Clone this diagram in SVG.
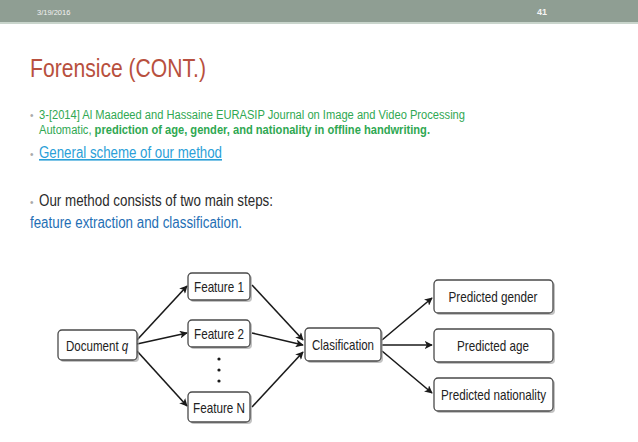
<svg xmlns="http://www.w3.org/2000/svg" width="638" height="442" viewBox="0 0 638 442">
<style>
.t{font-family:"Liberation Sans",Arial,sans-serif}
.box{fill:#fff;stroke:#4a4a4a;stroke-width:1.3}
.shadow{fill:#9a9a9a;opacity:0.6}
.lbl{font-family:"Liberation Sans",Arial,sans-serif;font-size:15px;fill:#222}
.conn line{stroke:#1a1a1a;stroke-width:1.6;marker-end:url(#ah)}
</style>
<defs>
<marker id="ah" viewBox="0 0 10 10" refX="9" refY="5" markerWidth="8" markerHeight="8" markerUnits="userSpaceOnUse" orient="auto">
<path d="M0,0 L10,5 L0,10 L2.5,5 z" fill="#1a1a1a"/>
</marker>
</defs>
<rect x="0" y="0" width="638" height="442" fill="#fff"/>
<rect x="0" y="0" width="638" height="22" fill="#8f9e93"/>
<rect x="0" y="22" width="638" height="2" fill="#c9d5cc"/>
<text class="t" x="37" y="15" font-size="7.5" fill="#f2f2f2">3/19/2016</text>
<text class="t" x="537" y="15" font-size="9" font-weight="bold" fill="#f5f5f5">41</text>
<text class="t" x="30" y="77" font-size="25" fill="#b8503e" textLength="176" lengthAdjust="spacingAndGlyphs">Forensice (CONT.)</text>
<g class="t">
<text x="30" y="119" font-size="10" fill="#aaa">•</text>
<text x="39" y="119" font-size="12" fill="#2fa852" textLength="426" lengthAdjust="spacingAndGlyphs">3-[2014] Al Maadeed and Hassaine EURASIP Journal on Image and Video Processing</text>
<text x="39" y="134" font-size="12" fill="#2fa852" textLength="391" lengthAdjust="spacingAndGlyphs">Automatic, <tspan font-weight="bold">prediction of age, gender, and nationality in offline handwriting.</tspan></text>
<text x="30" y="158" font-size="10" fill="#aaa">•</text>
<text x="39" y="158" font-size="16" fill="#2aa0d8" text-decoration="underline" textLength="183" lengthAdjust="spacingAndGlyphs">General scheme of our method</text>
<text x="30" y="206" font-size="10" fill="#aaa">•</text>
<text x="39" y="206" font-size="16" fill="#2b2b2b" textLength="234" lengthAdjust="spacingAndGlyphs">Our method consists of two main steps:</text>
<text x="30" y="228" font-size="16" fill="#1f6fb5" textLength="212" lengthAdjust="spacingAndGlyphs">feature extraction and classification.</text>
</g>
<g class="conn">
<line x1="137" y1="340" x2="187" y2="286"/>
<line x1="137" y1="344" x2="187" y2="333"/>
<line x1="137" y1="351" x2="187" y2="406"/>
<line x1="252" y1="285" x2="303" y2="340"/>
<line x1="252" y1="333" x2="303" y2="345"/>
<line x1="252" y1="407" x2="303" y2="352"/>
<line x1="382" y1="340" x2="432" y2="298"/>
<line x1="382" y1="345" x2="432" y2="345"/>
<line x1="382" y1="351" x2="432" y2="393"/>
</g>
<g id="doc">
<rect class="shadow" x="60" y="332" width="79" height="30" rx="4"/>
<rect class="box" x="58" y="330" width="79" height="30" rx="4"/>
<text class="lbl" transform="translate(66,350.5) scale(0.77,1)">Document <tspan font-style="italic">q</tspan></text>
</g>
<g id="f1">
<rect class="shadow" x="190" y="275" width="62" height="27" rx="4"/>
<rect class="box" x="188" y="273" width="62" height="27" rx="4"/>
<text class="lbl" x="194" y="291.5" textLength="50" lengthAdjust="spacingAndGlyphs">Feature 1</text>
</g>
<g id="f2">
<rect class="shadow" x="190" y="322" width="62" height="27" rx="4"/>
<rect class="box" x="188" y="320" width="62" height="27" rx="4"/>
<text class="lbl" x="194" y="338.5" textLength="50" lengthAdjust="spacingAndGlyphs">Feature 2</text>
</g>
<g id="dots" fill="#1a1a1a">
<circle cx="219" cy="359" r="1.6"/>
<circle cx="219" cy="370" r="1.6"/>
<circle cx="219" cy="381" r="1.6"/>
</g>
<g id="fn">
<rect class="shadow" x="190" y="394" width="62" height="30" rx="4"/>
<rect class="box" x="188" y="392" width="62" height="30" rx="4"/>
<text class="lbl" x="193" y="412.5" textLength="52" lengthAdjust="spacingAndGlyphs">Feature N</text>
</g>
<g id="clas">
<rect class="shadow" x="307" y="330" width="76" height="33" rx="4"/>
<rect class="box" x="305" y="328" width="76" height="33" rx="4"/>
<text class="lbl" x="312" y="350" textLength="62" lengthAdjust="spacingAndGlyphs">Clasification</text>
</g>
<g id="pg">
<rect class="shadow" x="436" y="282" width="119" height="33" rx="4"/>
<rect class="box" x="434" y="280" width="119" height="33" rx="4"/>
<text class="lbl" x="448.5" y="301.5" textLength="89" lengthAdjust="spacingAndGlyphs">Predicted gender</text>
</g>
<g id="pa">
<rect class="shadow" x="436" y="331" width="119" height="33" rx="4"/>
<rect class="box" x="434" y="329" width="119" height="33" rx="4"/>
<text class="lbl" x="457" y="350.5" textLength="72" lengthAdjust="spacingAndGlyphs">Predicted age</text>
</g>
<g id="pn">
<rect class="shadow" x="436" y="380" width="119" height="33" rx="4"/>
<rect class="box" x="434" y="378" width="119" height="33" rx="4"/>
<text class="lbl" x="441" y="399.5" textLength="105" lengthAdjust="spacingAndGlyphs">Predicted nationality</text>
</g>
</svg>
